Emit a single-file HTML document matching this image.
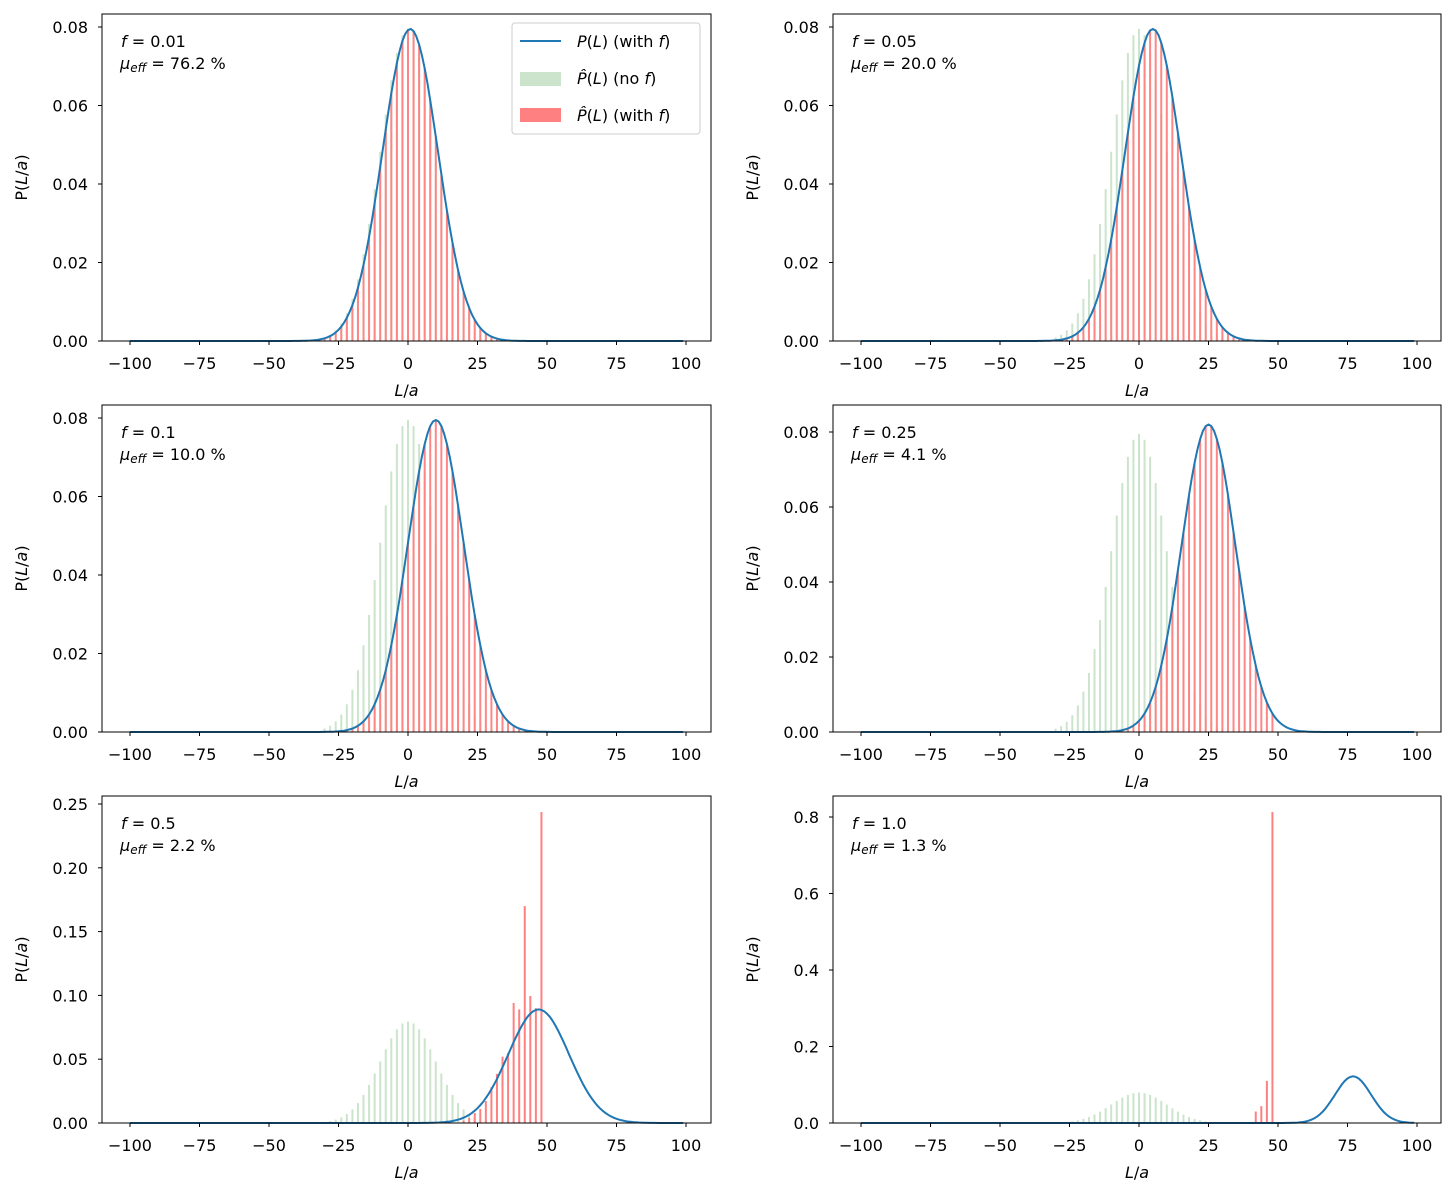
<!DOCTYPE html>
<html><head><meta charset="utf-8"><style>
body{margin:0;background:#fff}
svg{display:block}
text{font-family:"DejaVu Sans","Liberation Sans",sans-serif;font-size:16px;fill:#000}
</style></head><body>
<svg id="s" width="1455" height="1198" xmlns="http://www.w3.org/2000/svg"></svg>
<script>
const S=document.getElementById('s');let h='';
function g(m,p,s,L){return p*Math.exp(-(L-m)*(L-m)/(2*s*s));}
const panels=[
 {x0:102,x1:711,y0:14,y1:341,xo:130,yz:341,ys:3925,ticks:[0,0.02,0.04,0.06,0.08],fmt:2,f:'0.01',mu:'76.2',m:0.8,p:0.0795,s:10,leg:1},
 {x0:833,x1:1441,y0:14,y1:341,xo:861,yz:341,ys:3925,ticks:[0,0.02,0.04,0.06,0.08],fmt:2,f:'0.05',mu:'20.0',m:5,p:0.0795,s:10},
 {x0:102,x1:711,y0:405,y1:732,xo:130,yz:732,ys:3925,ticks:[0,0.02,0.04,0.06,0.08],fmt:2,f:'0.1',mu:'10.0',m:10,p:0.0795,s:10},
 {x0:833,x1:1441,y0:405,y1:732,xo:861,yz:732,ys:3750,ticks:[0,0.02,0.04,0.06,0.08],fmt:2,f:'0.25',mu:'4.1',m:25,p:0.082,s:9.7},
 {x0:102,x1:711,y0:796,y1:1123,xo:130,yz:1123,ys:1276,ticks:[0,0.05,0.1,0.15,0.2,0.25],fmt:2,f:'0.5',mu:'2.2',m:47,p:0.089,s:10.9,
  red:{24:0.0078,26:0.011,28:0.0172,30:0.028,32:0.0385,34:0.052,36:0.055,38:0.094,40:0.089,42:0.17,44:0.0995,46:0.09,48:0.2437,22:0.004,20:0.002}},
 {x0:833,x1:1441,y0:796,y1:1123,xo:861,yz:1123,ys:382.5,ticks:[0,0.2,0.4,0.6,0.8],fmt:1,f:'1.0',mu:'1.3',m:77,p:0.122,s:6.5,
  red:{42:0.03,44:0.044,46:0.11,48:0.813}}
];
for(const P of panels){
 const X=L=>P.xo+(L+100)*2.78, Y=v=>P.yz-v*P.ys;
 for(let L=-30;L<=30;L+=2){const v=g(0,0.0795,10,L);if(v<0.0003)continue;
  h+=`<rect x="${X(L)-1}" y="${Y(v)}" width="2" height="${v*P.ys}" fill="#cce4cc"/>`;}
 if(P.red){for(const k in P.red){const v=P.red[k];h+=`<rect x="${X(+k)-1}" y="${Y(v)}" width="2" height="${v*P.ys}" fill="#ff8080"/>`;}}
 else{for(let L=-40;L<=48;L+=2){let v=g(P.m,P.p,P.s,L);if(v<0.0003)continue;
  h+=`<rect x="${X(L)-1}" y="${Y(v)}" width="2" height="${v*P.ys}" fill="#ff8080" fill-opacity="0.95"/>`;}}
 let d='';for(let L=-100;L<=99;L++){d+=(L==-100?'M':'L')+X(L).toFixed(1)+','+Y(g(P.m,P.p,P.s,L)).toFixed(1);}
 h+=`<path d="${d}" fill="none" stroke="#1f77b4" stroke-width="2"/>`;
 h+=`<rect x="${P.x0}" y="${P.y0}" width="${P.x1-P.x0}" height="${P.y1-P.y0}" fill="none" stroke="#000" stroke-width="1"/>`;
 for(let L=-100;L<=100;L+=25){const x=X(L);h+=`<line x1="${x}" x2="${x}" y1="${P.y1}" y2="${P.y1+4}" stroke="#000"/>`;
  h+=`<text x="${x}" y="${P.y1+28}" text-anchor="middle">${L<0?'\u2212'+(-L):L}</text>`;}
 h+=`<text x="${(P.x0+P.x1)/2}" y="${P.y1+55}" text-anchor="middle"><tspan font-style="italic">L</tspan>/<tspan font-style="italic">a</tspan></text>`;
 for(const t of P.ticks){const y=Y(t);h+=`<line x1="${P.x0-4}" x2="${P.x0}" y1="${y}" y2="${y}" stroke="#000"/>`;
  h+=`<text x="${P.x0-14}" y="${y+6}" text-anchor="end">${t.toFixed(P.fmt)}</text>`;}
 const cy=(P.y0+P.y1)/2;
 h+=`<text transform="translate(${P.x0-75},${cy}) rotate(-90)" text-anchor="middle">P(<tspan font-style="italic">L</tspan>/<tspan font-style="italic">a</tspan>)</text>`;
 h+=`<text x="${P.x0+19}" y="${P.y0+33}"><tspan font-style="italic">f</tspan> = ${P.f}</text>`;
 h+=`<text x="${P.x0+18}" y="${P.y0+55}"><tspan font-style="italic">μ</tspan><tspan font-style="italic" font-size="12" dy="3">eff</tspan><tspan dy="-3"> = ${P.mu} %</tspan></text>`;
 if(P.leg){
  h+=`<rect x="512" y="23" width="188" height="111" rx="3" fill="#fff" fill-opacity="0.8" stroke="#ccc"/>`;
  h+=`<line x1="520" x2="561" y1="41" y2="41" stroke="#1f77b4" stroke-width="2"/>`;
  h+=`<rect x="520" y="72" width="41" height="14" fill="#cce4cc"/>`;
  h+=`<rect x="520" y="108" width="41" height="14" fill="#ff8080"/>`;
  h+=`<text x="577" y="47"><tspan font-style="italic">P</tspan>(<tspan font-style="italic">L</tspan>) (with <tspan font-style="italic">f</tspan>)</text>`;
  h+=`<text x="577" y="84"><tspan font-style="italic">P̂</tspan>(<tspan font-style="italic">L</tspan>) (no <tspan font-style="italic">f</tspan>)</text>`;
  h+=`<text x="577" y="121"><tspan font-style="italic">P̂</tspan>(<tspan font-style="italic">L</tspan>) (with <tspan font-style="italic">f</tspan>)</text>`;
 }
}
S.innerHTML=h;
</script>
</body></html>
